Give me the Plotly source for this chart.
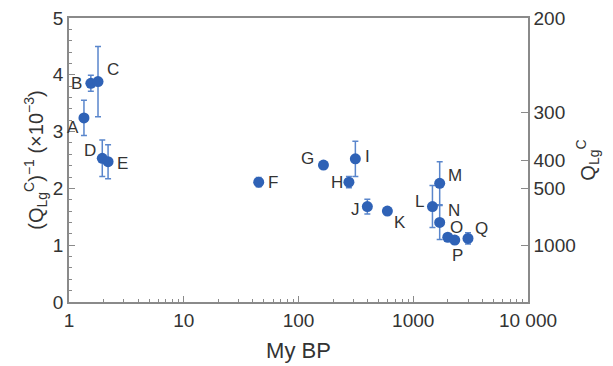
import math
import plotly.graph_objects as go

labels = ["A","B","C","D","E","F","G","H","I","J","K","L","M","N","O","P","Q"]
my_bp = [1.35, 1.55, 1.79, 1.95, 2.19, 45, 165, 275, 313, 398, 595, 1470, 1700, 1700, 2000, 2300, 3000]
inv_q = [3.24, 3.85, 3.88, 2.53, 2.47, 2.11, 2.41, 2.11, 2.52, 1.68, 1.60, 1.68, 2.09, 1.40, 1.14, 1.09, 1.12]
err = [0.31, 0.14, 0.62, 0.32, 0.30, 0.08, 0.05, 0.10, 0.31, 0.13, 0.05, 0.37, 0.38, 0.30, 0.06, 0.06, 0.10]
# label offsets (px, yshift positive = up)
lab_dx = [-11, -14, 15, -12, 14, 14, -16, -12, 12, -12, 13, -13, 15, 14, 9, 3, 13]
lab_dy = [-10, 0, 12, 8, -2, 0, 7, 0, 2, -3, -11, 5, 8, 12, 10, -15, 10]

q_ticks = [200, 300, 400, 500, 1000]

blue = "#2f62b6"
gray = "#8a8a8a"
txt = "#333333"
font = "Liberation Sans, Arial, sans-serif"

minor_x = [m * 10 ** k for k in range(4) for m in range(2, 10)]

fig = go.Figure()
fig.add_trace(go.Scatter(
    x=my_bp, y=inv_q, mode="markers",
    marker=dict(color=blue, size=11),
    error_y=dict(type="data", array=err, visible=True, color="#5a86cc", thickness=1.5, width=3),
    showlegend=False,
))
fig.add_trace(go.Scatter(x=[my_bp[0]], y=[inv_q[0]], yaxis="y2", mode="markers",
                         marker=dict(opacity=0), showlegend=False, hoverinfo="skip"))

for lab, x, y, dx, dy in zip(labels, my_bp, inv_q, lab_dx, lab_dy):
    fig.add_annotation(x=math.log10(x), y=y, text=lab, showarrow=False, xref="x", yref="y",
                       xshift=dx, yshift=dy, font=dict(size=17, color=txt, family=font))

fig.update_layout(
    width=613, height=366,
    margin=dict(l=69, r=85, t=18, b=64),
    paper_bgcolor="white", plot_bgcolor="white",
    font=dict(family=font, color=txt, size=19),
    xaxis=dict(type="log", range=[0, 4], tickvals=[1, 10, 100, 1000, 10000],
               ticktext=["1", "10", "100", "1000", "10 000"], automargin=False,
               ticks="inside", ticklen=6, tickcolor=gray, showline=True, linecolor=gray,
               linewidth=1.5, mirror=True, showgrid=False, zeroline=False,
               minor=dict(ticks="inside", ticklen=3, tickcolor=gray, tickvals=minor_x, showgrid=False),
               title=dict(text="My BP", font=dict(size=22), standoff=13),
               tickfont=dict(size=19)),
    yaxis=dict(range=[0, 5], dtick=1, ticks="inside", ticklen=6, tickcolor=gray, automargin=False,
               showline=True, linecolor=gray, linewidth=1.5, showgrid=False, zeroline=False,
               minor=dict(ticks="inside", ticklen=3, tickcolor=gray, dtick=0.2, showgrid=False),
               title=dict(text="(Q<sub>Lg</sub><sup>C</sup>)<sup>−1</sup> (×10<sup>−3</sup>)",
                          font=dict(size=20), standoff=4),
               tickfont=dict(size=19)),
    yaxis2=dict(range=[0, 5], overlaying="y", side="right", automargin=False,
                tickvals=[1000.0 / q for q in q_ticks], ticktext=[str(q) for q in q_ticks],
                ticks="inside", ticklen=7, tickcolor=gray, showline=True, linecolor=gray,
                linewidth=1.5, showgrid=False, zeroline=False,
                title=dict(text="Q<sub>Lg</sub><sup>C</sup>", font=dict(size=20), standoff=6),
                tickfont=dict(size=19)),
)

fig.write_html("out.html")
